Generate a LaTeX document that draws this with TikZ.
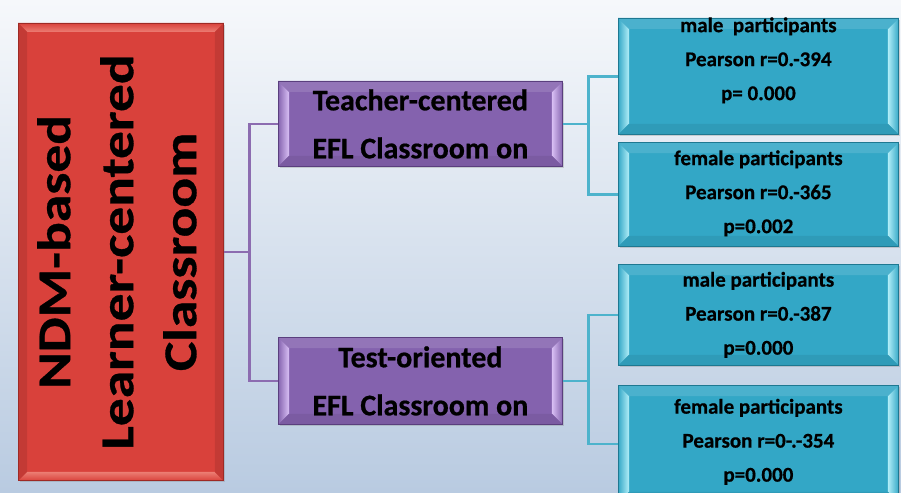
\documentclass[tikz,border=0pt]{standalone}
\usepackage{fontspec}
\setmainfont{Carlito}[BoldFeatures={FakeBold=0.6}]
\usepackage{tikz}
\usetikzlibrary{calc,positioning,shadows}
\definecolor{bgTop}{HTML}{F6F8FB}
\definecolor{bgBottom}{HTML}{B9CBE1}
\definecolor{redBase}{HTML}{D9413B}
\definecolor{redLight}{HTML}{EC7E74}
\definecolor{redEdge}{HTML}{9E2A25}
\definecolor{purpleBase}{HTML}{8462AE}
\definecolor{purpleLight}{HTML}{D9C0F5}
\definecolor{purpleEdge}{HTML}{5A3F7E}
\definecolor{blueBase}{HTML}{33A7C6}
\definecolor{blueLight}{HTML}{B2EEF8}
\definecolor{blueEdge}{HTML}{1E7891}
\definecolor{linkPurple}{HTML}{8C6CB0}
\definecolor{linkBlue}{HTML}{4DB3CC}
\tikzset{
  panel/.style={rectangle,inner sep=0pt,anchor=north west,line width=0.8pt,
    drop shadow={shadow xshift=2pt,shadow yshift=-2pt,opacity=0.3}},
  redpanel/.style={panel,fill=redBase,draw=redEdge},
  purplepanel/.style={panel,fill=purpleBase,draw=purpleEdge},
  bluepanel/.style={panel,fill=blueBase,draw=blueEdge},
  purpleLink/.style={draw=linkPurple,line width=2.7pt,line cap=butt},
  blueLink/.style={draw=linkBlue,line width=2.7pt,line cap=butt},
  bigText/.style={font=\bfseries\fontsize{47}{63}\selectfont,align=center,
    rotate=90,xscale=1.18},
  midText/.style={font=\bfseries\fontsize{30}{48}\selectfont,align=center},
  smallText/.style={font=\bfseries\fontsize{21}{34}\selectfont,align=center}
}
% bevel with light strips left and right
\newcommand{\sidebevel}[5]{%
  \path[left color=#2,right color=#3] (#1.north west) -- ++(#5,#5)
    -- ($(#1.south west)+(#5,-#5)$) -- (#1.south west) -- cycle;
  \path[left color=#3,right color=#2] (#1.north east) -- ++(-#5,#5)
    -- ($(#1.south east)+(-#5,-#5)$) -- (#1.south east) -- cycle;
  \fill[#2!88!white] (#1.north west) -- (#1.north east) -- ++(-#5,#5)
    -- ($(#1.north west)+(#5,#5)$) -- cycle;
  \fill[#2!93!black] (#1.south west) -- (#1.south east) -- ++(-#5,-#5)
    -- ($(#1.south west)+(#5,-#5)$) -- cycle;
  \draw[#4,line width=0.8pt] (#1.north west) rectangle (#1.south east);
}
% bevel with light strips top and bottom
\newcommand{\topbevel}[5]{%
  \path[top color=#2,bottom color=#3] (#1.north west) -- (#1.north east)
    -- ++(-#5,#5) -- ($(#1.north west)+(#5,#5)$) -- cycle;
  \path[top color=#3,bottom color=#2] (#1.south west) -- (#1.south east)
    -- ++(-#5,-#5) -- ($(#1.south west)+(#5,-#5)$) -- cycle;
  \fill[#2!90!black] (#1.north west) -- ++(#5,#5)
    -- ($(#1.south west)+(#5,-#5)$) -- (#1.south west) -- cycle;
  \fill[#2!90!black] (#1.north east) -- ++(-#5,#5)
    -- ($(#1.south east)+(-#5,-#5)$) -- (#1.south east) -- cycle;
  \draw[#4,line width=0.8pt] (#1.north west) rectangle (#1.south east);
}
\begin{document}
\begin{tikzpicture}[x=1pt,y=-1pt,line cap=round]
  \path[use as bounding box] (0,0) rectangle (901,492);
  \clip (0,0) rectangle (901,492);
  \fill[top color=bgTop,bottom color=bgBottom] (0,0) rectangle (901,492);

  % left block
  \node[redpanel,minimum width=205pt,minimum height=457pt] (ndm) at (18,23) {};
  \topbevel{ndm}{redBase}{redLight}{redEdge}{9}
  \node[bigText] (ndmtext) at ($(ndm.center)+(-4,0)$)
    {NDM-based\\Learner-centered\\Classroom};

  % middle blocks
  \node[purplepanel,minimum width=284pt,minimum height=85pt] (teacher) at (278,81) {};
  \sidebevel{teacher}{purpleBase}{purpleLight}{purpleEdge}{11}
  \node[midText] (teachertext) at (teacher.center) {Teacher-centered\\EFL Classroom on};

  \node[purplepanel,minimum width=284pt,minimum height=87pt] (test) at (278,337) {};
  \sidebevel{test}{purpleBase}{purpleLight}{purpleEdge}{11}
  \node[midText] (testtext) at (test.center) {Test-oriented\\EFL Classroom on};

  % right blocks
  \node[bluepanel,minimum width=280pt,minimum height=116pt] (teachermale) at (618,18) {};
  \sidebevel{teachermale}{blueBase}{blueLight}{blueEdge}{11}
  \node[smallText] (teachermaletext) at ($(teachermale.center)+(0,-16)$)
    {male~ participants\\Pearson r=0.-394\\p= 0.000};

  \node[bluepanel,minimum width=280pt,minimum height=104pt] (teacherfemale) at (618,142) {};
  \sidebevel{teacherfemale}{blueBase}{blueLight}{blueEdge}{11}
  \node[smallText] (teacherfemaletext) at ($(teacherfemale.center)+(0,-1)$)
    {female participants\\Pearson r=0.-365\\p=0.002};

  \node[bluepanel,minimum width=280pt,minimum height=101pt] (testmale) at (618,264) {};
  \sidebevel{testmale}{blueBase}{blueLight}{blueEdge}{11}
  \node[smallText] (testmaletext) at (testmale.center)
    {male participants\\Pearson r=0.-387\\p=0.000};

  \node[bluepanel,minimum width=280pt,minimum height=117pt] (testfemale) at (618,385) {};
  \sidebevel{testfemale}{blueBase}{blueLight}{blueEdge}{11}
  \node[smallText] (testfemaletext) at ($(testfemale.center)+(0,-2)$)
    {female participants\\Pearson r=0-.-354\\p=0.000};

  % connectors
  \draw[purpleLink] (ndm.east) -- ++(26,0) coordinate (split1);
  \draw[purpleLink] (teacher.west) -| (split1) |- (test.west);
  \draw[blueLink] (teacher.east) -- ++(26,0) coordinate (split2);
  \draw[blueLink] (teachermale.west) -| (split2) |- (teacherfemale.west);
  \draw[blueLink] (test.east) -- ++(26,0) coordinate (split3);
  \draw[blueLink] (testmale.west) -| (split3) |- (testfemale.west);
\end{tikzpicture}
\end{document}
